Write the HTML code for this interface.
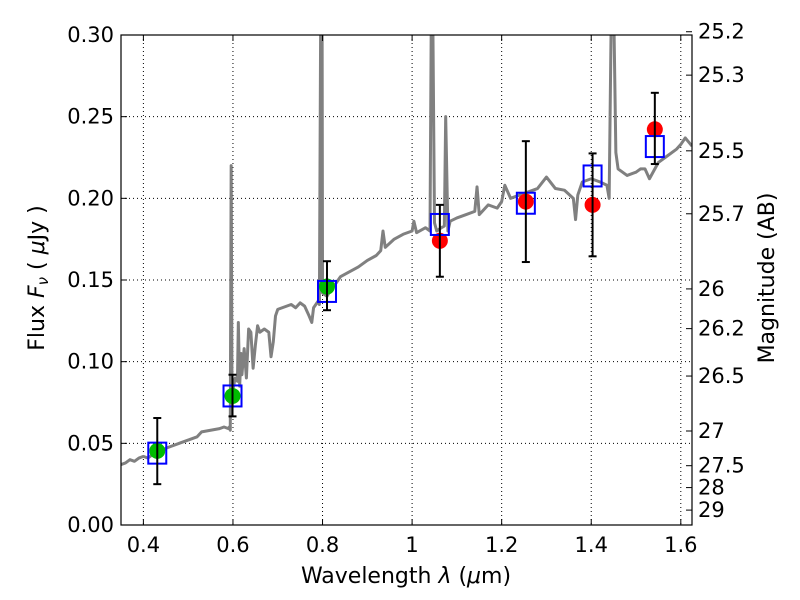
<!DOCTYPE html>
<html><head><meta charset="utf-8"><style>
body{margin:0;background:#fff;}
svg{display:block;font-family:"DejaVu Sans","Liberation Sans",sans-serif;}
</style></head><body>
<svg id="chart" width="800" height="600" viewBox="0 0 800 600" xmlns="http://www.w3.org/2000/svg">
<rect width="800" height="600" fill="#fff"/>
<g id="grid"></g>
<g id="spec"></g>
<g id="pts"></g>
<rect x="121" y="35" width="571" height="490" fill="none" stroke="#000" stroke-width="1.2"/>
<g id="axes"></g>
<text x="406" y="583" font-size="22" text-anchor="middle">Wavelength  <tspan font-style="italic">λ</tspan> (<tspan font-style="italic">μ</tspan>m)</text>
<text transform="translate(44,278) rotate(-90)" font-size="22" text-anchor="middle">Flux  <tspan font-style="italic">F<tspan font-size="15" dy="4">ν</tspan></tspan><tspan dy="-4">  ( </tspan><tspan font-style="italic">μ</tspan>Jy )</text>
<text transform="translate(774,278) rotate(-90)" font-size="22" text-anchor="middle">Magnitude (AB)</text>
</svg>
<script>
const xTicks=[0.4,0.6,0.8,1.0,1.2,1.4,1.6];
const xTickLabels=["0.4","0.6","0.8","1","1.2","1.4","1.6"];
const yTicks=[0,0.05,0.10,0.15,0.20,0.25,0.30];
const yTickLabels=["0.00","0.05","0.10","0.15","0.20","0.25","0.30"];
const magTicks=[25.2,25.3,25.5,25.7,26,26.2,26.5,27,27.5,28,29];
const magTickLabels=["25.2","25.3","25.5","25.7","26","26.2","26.5","27","27.5","28","29"];
const specWave=[0.35,0.36,0.37,0.38,0.39,0.40,0.41,0.42,0.43,0.45,0.46,0.48,0.50,0.52,0.53,0.55,0.57,0.58,0.59,0.592,0.594,0.596,0.598,0.60,0.605,0.61,0.612,0.615,0.618,0.62,0.625,0.63,0.635,0.64,0.645,0.65,0.655,0.66,0.67,0.68,0.685,0.69,0.695,0.70,0.71,0.72,0.73,0.74,0.75,0.76,0.77,0.776,0.78,0.79,0.793,0.796,0.799,0.80,0.81,0.82,0.83,0.84,0.86,0.88,0.90,0.92,0.93,0.935,0.94,0.96,0.98,1.0,1.004,1.01,1.03,1.04,1.043,1.046,1.05,1.055,1.065,1.072,1.075,1.08,1.085,1.10,1.12,1.14,1.145,1.15,1.17,1.19,1.2,1.207,1.22,1.25,1.28,1.30,1.32,1.34,1.36,1.365,1.37,1.38,1.40,1.42,1.435,1.44,1.445,1.45,1.455,1.46,1.48,1.50,1.51,1.52,1.53,1.55,1.57,1.59,1.60,1.61,1.625];
const specFlux=[0.037,0.038,0.040,0.039,0.041,0.042,0.041,0.043,0.042,0.047,0.048,0.050,0.052,0.054,0.057,0.058,0.059,0.060,0.059,0.060,0.058,0.220,0.072,0.083,0.090,0.088,0.124,0.085,0.105,0.092,0.108,0.090,0.120,0.118,0.096,0.110,0.122,0.118,0.120,0.118,0.103,0.112,0.128,0.132,0.133,0.134,0.135,0.133,0.136,0.134,0.128,0.124,0.133,0.137,0.135,0.32,0.32,0.142,0.140,0.145,0.148,0.152,0.155,0.158,0.162,0.165,0.168,0.180,0.170,0.175,0.178,0.180,0.186,0.179,0.182,0.180,0.32,0.32,0.185,0.180,0.182,0.183,0.250,0.180,0.186,0.188,0.190,0.192,0.207,0.190,0.196,0.194,0.198,0.208,0.200,0.203,0.206,0.213,0.206,0.205,0.200,0.187,0.202,0.210,0.212,0.210,0.208,0.200,0.32,0.32,0.228,0.218,0.214,0.216,0.218,0.218,0.212,0.222,0.226,0.230,0.233,0.237,0.232,0.238];
const bandWave=[0.431,0.599,0.81,1.062,1.254,1.403,1.542];
const obsFlux=[0.0454,0.079,0.146,0.174,0.198,0.196,0.2423];
const errHi=[0.0655,0.092,0.1615,0.196,0.235,0.2275,0.2646];
const errLo=[0.025,0.0665,0.1315,0.152,0.161,0.1645,0.221];
const modelFlux=[0.044,0.079,0.143,0.184,0.197,0.2137,0.2317];
const obsColor=["#00bb00","#00bb00","#00bb00","#ff0000","#ff0000","#ff0000","#ff0000"];

const L=121,R=692,T=35,B=525,X0=0.35,X1=1.625,Y0=0,Y1=0.30;
const sx=v=>L+(v-X0)/(X1-X0)*(R-L);
const sy=v=>B-(v-Y0)/(Y1-Y0)*(B-T);
const NS="http://www.w3.org/2000/svg";
function mk(tag,parent,attrs){const e=document.createElementNS(NS,tag);for(const k in attrs)e.setAttribute(k,attrs[k]);parent.appendChild(e);return e;}
const grid=document.getElementById('grid'),axes=document.getElementById('axes'),spec=document.getElementById('spec'),pts=document.getElementById('pts');

xTicks.forEach((v,i)=>{const x=sx(v);
 const g=mk('line',grid,{x1:x,x2:x,y1:T,y2:B,stroke:'#000','stroke-width':1,'stroke-dasharray':'1,3'});
 
 mk('line',axes,{x1:x,x2:x,y1:B,y2:B-6,stroke:'#000'});mk('line',axes,{x1:x,x2:x,y1:T,y2:T+6,stroke:'#000'});
 const t=mk('text',axes,{x:x,y:B+27,'font-size':21,'text-anchor':'middle'});t.textContent=xTickLabels[i];
 });
yTicks.forEach((v,i)=>{const y=sy(v);
 const g=mk('line',grid,{x1:L,x2:R,y1:y,y2:y,stroke:'#000','stroke-width':1,'stroke-dasharray':'1,3'});
 
 mk('line',axes,{x1:L,x2:L+6,y1:y,y2:y,stroke:'#000'});
 const t=mk('text',axes,{x:L-7,y:y+7,'font-size':21,'text-anchor':'end'});t.textContent=yTickLabels[i];
 });
magTicks.forEach((m,i)=>{const y=sy(Math.pow(10,(23.9-m)/2.5));
 mk('line',axes,{x1:R,x2:R-6,y1:y,y2:y,stroke:'#000'});
 const t=mk('text',axes,{x:R+6,y:y+7,'font-size':21});t.textContent=magTickLabels[i];
 });

const clip=mk('clipPath',document.getElementById('chart'),{id:'pc'});mk('rect',clip,{x:L,y:T,width:R-L,height:B-T});
spec.setAttribute('clip-path','url(#pc)');
const line=mk('polyline',spec,{points:specWave.map((w,i)=>sx(w)+','+sy(specFlux[i])).join(' '),fill:'none',stroke:'#808080','stroke-width':3,'stroke-linejoin':'round'});



bandWave.forEach((w,i)=>{const x=sx(w);
 const g=mk('g',pts,{});
 
 
 mk('circle',g,{cx:x,cy:sy(obsFlux[i]),r:8,fill:obsColor[i]});
 mk('rect',g,{x:x-9,y:sy(modelFlux[i])-10.5,width:18,height:21,fill:'none',stroke:'#0000ff','stroke-width':2});
 const y1=sy(errHi[i]),y2=sy(errLo[i]);
 mk('line',g,{x1:x,x2:x,y1:y1,y2:y2,stroke:'#000','stroke-width':2});
 mk('line',g,{x1:x-4,x2:x+4,y1:y1,y2:y1,stroke:'#000','stroke-width':2});
 mk('line',g,{x1:x-4,x2:x+4,y1:y2,y2:y2,stroke:'#000','stroke-width':2});
});
</script>
</body></html>
